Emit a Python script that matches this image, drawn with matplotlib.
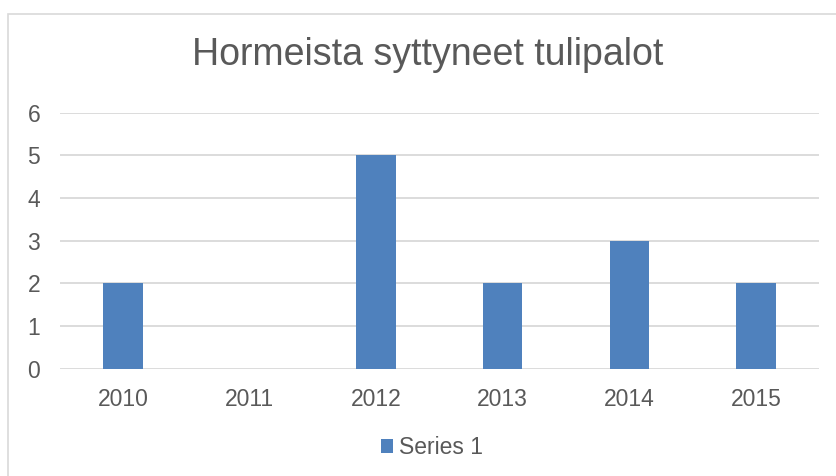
import matplotlib.pyplot as plt
from matplotlib.patches import Rectangle

plt.rcParams['font.family'] = ['Liberation Sans', 'DejaVu Sans']

# Data
years = ['2010', '2011', '2012', '2013', '2014', '2015']
fires = [2, 0, 5, 2, 3, 2]
series_name = 'Series 1'
title = 'Hormeista syttyneet tulipalot'

text_color = '#595959'
bar_color = '#4F81BD'
grid_color = '#D9D9D9'

fig = plt.figure(figsize=(8.37, 4.76), dpi=100)

# Light chart border (left/top visible, rest runs off the picture)
fig.patches.append(Rectangle((8 / 837, -0.1), 1.2, 1 - 14 / 476 + 0.1,
                             transform=fig.transFigure, fill=False,
                             edgecolor=grid_color, linewidth=1.2))

ax = fig.add_axes([0.0713, 0.2254, 0.9075, 0.5382])
x = range(len(years))
bars = ax.bar(x, fires, width=0.311, color=bar_color, label=series_name, zorder=3)

ax.set_xlim(-0.5, len(years) - 0.5)
ax.set_ylim(0, 6)
ax.set_yticks(range(0, 7))
ax.set_xticks(list(x))
ax.set_xticklabels(years)
ax.yaxis.grid(True, color=grid_color, linewidth=1.3, zorder=0)
ax.set_axisbelow(True)
for s in ax.spines.values():
    s.set_visible(False)
ax.tick_params(axis='both', length=0, labelsize=16.5, labelcolor=text_color)
ax.tick_params(axis='y', pad=14)
ax.tick_params(axis='x', pad=14)

fig.text(0.511, 1 - 55 / 476, title, ha='center', va='center',
         fontsize=27, color=text_color)

fig.legend(handles=[bars], labels=[series_name], loc='center',
           bbox_to_anchor=(0.516, 1 - 448 / 476), frameon=False, fontsize=16.5,
           labelcolor=text_color, handlelength=0.55, handleheight=0.55,
           handletextpad=0.25)

fig.savefig('out.png', dpi=100)
